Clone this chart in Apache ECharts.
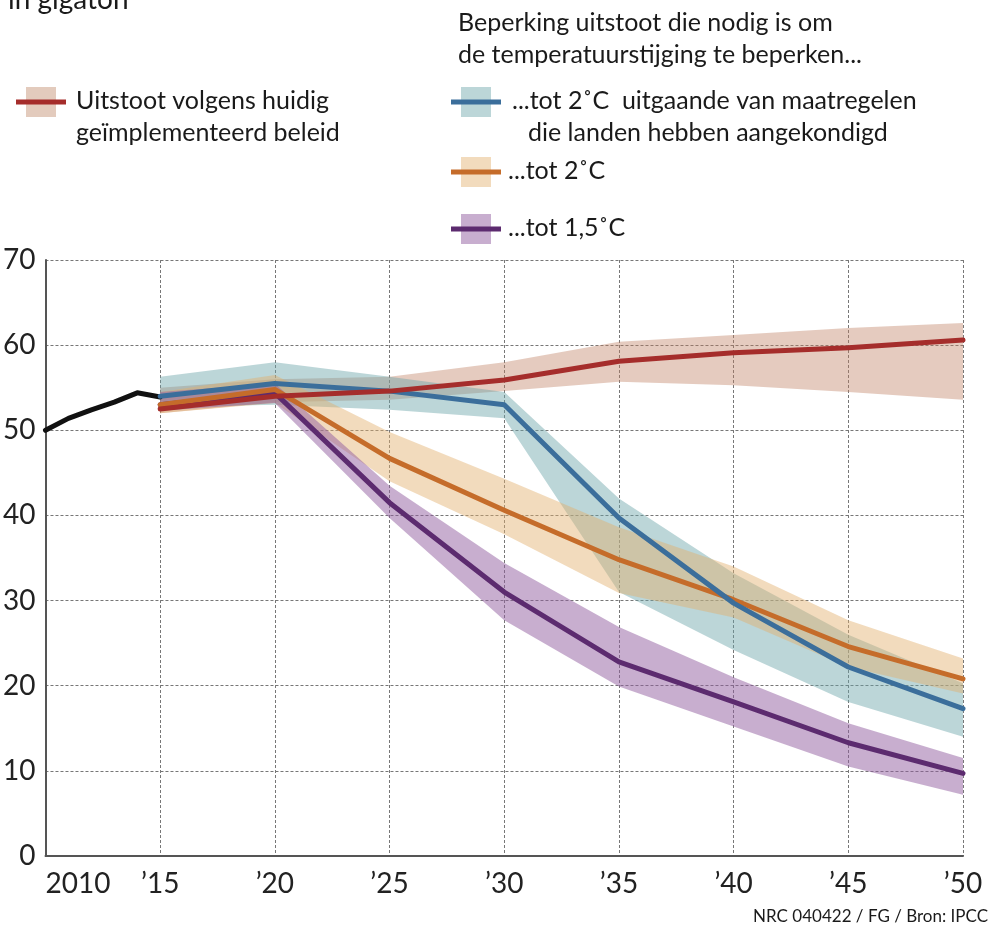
<!DOCTYPE html>
<html>
<head>
<meta charset="utf-8">
<script src="https://cdn.jsdelivr.net/npm/echarts@6/dist/echarts.min.js"></script>
<style>
html,body{margin:0;padding:0;background:#fff;}
#chart{width:1002px;height:926px;}
</style>
</head>
<body>
<div id="chart"></div>
<script>
// ---- data ----
const histYears = [2010, 2011, 2012, 2013, 2014, 2015];
const histValues = [50, 51.4, 52.4, 53.3, 54.4, 53.9];

const years = [2015, 2020, 2025, 2030, 2035, 2040, 2045, 2050];

const policy   = [52.5, 54.0, 54.6, 55.9, 58.1, 59.1, 59.7, 60.6];
const policyLo = [52.0, 53.3, 53.6, 54.6, 55.7, 55.3, 54.5, 53.6];
const policyHi = [55.0, 56.0, 56.3, 58.0, 60.4, 61.2, 62.0, 62.6];

const ndc   = [54.0, 55.5, 54.6, 53.0, 39.7, 29.7, 22.2, 17.3];
const ndcLo = [52.7, 53.0, 52.4, 51.4, 31.0, 24.2, 18.1, 14.0];
const ndcHi = [56.3, 58.0, 56.3, 54.5, 42.0, 33.2, 26.0, 20.3];

const two   = [53.0, 54.8, 46.7, 40.6, 34.8, 30.1, 24.6, 20.8];
const twoLo = [52.0, 53.2, 44.0, 37.8, 30.9, 28.0, 22.2, 19.1];
const twoHi = [54.5, 56.5, 49.8, 44.3, 38.6, 34.0, 27.7, 23.2];

const oneFive   = [53.0, 54.4, 41.5, 31.0, 22.8, 18.1, 13.3, 9.7];
const oneFiveLo = [52.3, 53.2, 39.7, 27.7, 19.9, 15.2, 10.5, 7.2];
const oneFiveHi = [54.5, 55.5, 43.5, 34.4, 26.9, 21.0, 15.6, 11.5];

const yTicks = [0, 10, 20, 30, 40, 50, 60, 70];
const xTickLabels = {2010:'2010',2015:'’15',2020:'’20',2025:'’25',2030:'’30',2035:'’35',2040:'’40',2045:'’45',2050:'’50'};

const legendHeader = ['Beperking uitstoot die nodig is om', 'de temperatuurstijging te beperken...'];
const legendPolicy = ['Uitstoot volgens huidig', 'geïmplementeerd beleid'];
const legendNdc = ['...tot 2˚C  uitgaande van maatregelen', 'die landen hebben aangekondigd'];
const legendTwo = '...tot 2˚C';
const legendOneFive = '...tot 1,5˚C';
const unitText = 'in gigaton';
const sourceText = 'NRC 040422 / FG / Bron: IPCC';

// ---- styles ----
const FONT = 'Lato';
const C = {
  policy: '#a52d2b', policyBand: 'rgba(190,125,95,0.4)', policyPatch: '#e3cbbd',
  ndc: '#3b6e9b', ndcBand: 'rgba(106,164,168,0.45)', ndcPatch: '#bcd6d8',
  two: '#c56c2a', twoBand: 'rgba(226,175,108,0.45)', twoPatch: '#f2dbbd',
  oneFive: '#5c2b6f', oneFiveBand: 'rgba(145,93,159,0.5)', oneFivePatch: '#c8aecf',
  hist: '#111'
};

function pairs(xs, ys) { return xs.map((x, i) => [x, ys[i]]); }
function band(name, lo, hi, color) {
  const data = years.map((x, i) => [x, lo[i], hi[i]]);
  return {
    name, type: 'custom', silent: true, z: 1,
    encode: { x: 0, y: [1, 2] },
    data,
    renderItem: function (params, api) {
      if (params.dataIndex !== 0) return null;
      const top = data.map(d => api.coord([d[0], d[2]]));
      const bot = data.map(d => api.coord([d[0], d[1]])).reverse();
      return { type: 'polygon', shape: { points: top.concat(bot) }, style: { fill: color } };
    }
  };
}
function line(name, xs, ys, color, z) {
  return { name, type: 'line', data: pairs(xs, ys), symbol: 'none',
    lineStyle: { color, width: 5, join: 'round', cap: 'round' }, silent: true, z };
}

function legendItem(x, y, lineColor, patchColor) {
  return [
    { type: 'rect', shape: { x: x + 10, y: y - 15, width: 30, height: 30 }, style: { fill: patchColor } },
    { type: 'rect', shape: { x: x, y: y - 2.5, width: 50, height: 5 }, style: { fill: lineColor } }
  ];
}
function txt(x, y, s, size, extra) {
  return Object.assign({ type: 'text', x, y, style: { text: s, font: (size) + 'px ' + FONT, fill: '#1a1a1a', textVerticalAlign: 'middle' } }, extra || {});
}

const chart = echarts.init(document.getElementById('chart'));
const option = {
  animation: false,
  backgroundColor: '#fff',
  grid: { left: 43, right: 39, top: 260, bottom: 70, containLabel: false },
  xAxis: {
    type: 'value', min: 2010, max: 2050, interval: 5,
    axisLine: { show: true, lineStyle: { color: '#555', width: 2 } },
    axisTick: { show: false },
    axisLabel: { formatter: v => xTickLabels[v] || '', fontFamily: FONT, fontSize: 28, color: '#222', margin: 14, alignMinLabel: 'left' },
    splitLine: { show: true, lineStyle: { color: '#777', width: 1, type: [3, 2] } }
  },
  yAxis: {
    type: 'value', min: yTicks[0], max: yTicks[yTicks.length - 1], interval: 10,
    axisLine: { show: true, lineStyle: { color: '#555', width: 2 } },
    axisTick: { show: false },
    axisLabel: { fontFamily: FONT, fontSize: 28, color: '#222', margin: 10 },
    splitLine: { show: true, lineStyle: { color: '#777', width: 1, type: [3, 2] } }
  },
  series: [
    band('policyBand', policyLo, policyHi, C.policyBand),
    band('ndcBand', ndcLo, ndcHi, C.ndcBand),
    band('twoBand', twoLo, twoHi, C.twoBand),
    band('oneFiveBand', oneFiveLo, oneFiveHi, C.oneFiveBand),
    line('hist', histYears, histValues, C.hist, 5),
    line('oneFive', years, oneFive, C.oneFive, 6),
    line('two', years, two, C.two, 7),
    line('ndc', years, ndc, C.ndc, 8),
    line('policy', years, policy, C.policy, 9)
  ],
  graphic: [
    txt(8, 0, unitText, 28),
    txt(458, 23, legendHeader[0], 25),
    txt(458, 55, legendHeader[1], 25),
    ...legendItem(16, 102, C.policy, C.policyPatch),
    txt(76, 101, legendPolicy[0], 25),
    txt(76, 133, legendPolicy[1], 25),
    ...legendItem(451, 102, C.ndc, C.ndcPatch),
    txt(512, 101, legendNdc[0], 25),
    txt(528, 133, legendNdc[1], 25),
    ...legendItem(451, 172, C.two, C.twoPatch),
    txt(508, 171, legendTwo, 25),
    ...legendItem(451, 229, C.oneFive, C.oneFivePatch),
    txt(508, 228, legendOneFive, 25),
    txt(988, 917, sourceText, 17, { style: { text: sourceText, font: '17px ' + FONT, fill: '#1a1a1a', textAlign: 'right', textVerticalAlign: 'middle' } })
  ]
};
chart.setOption(option);
</script>
</body>
</html>
